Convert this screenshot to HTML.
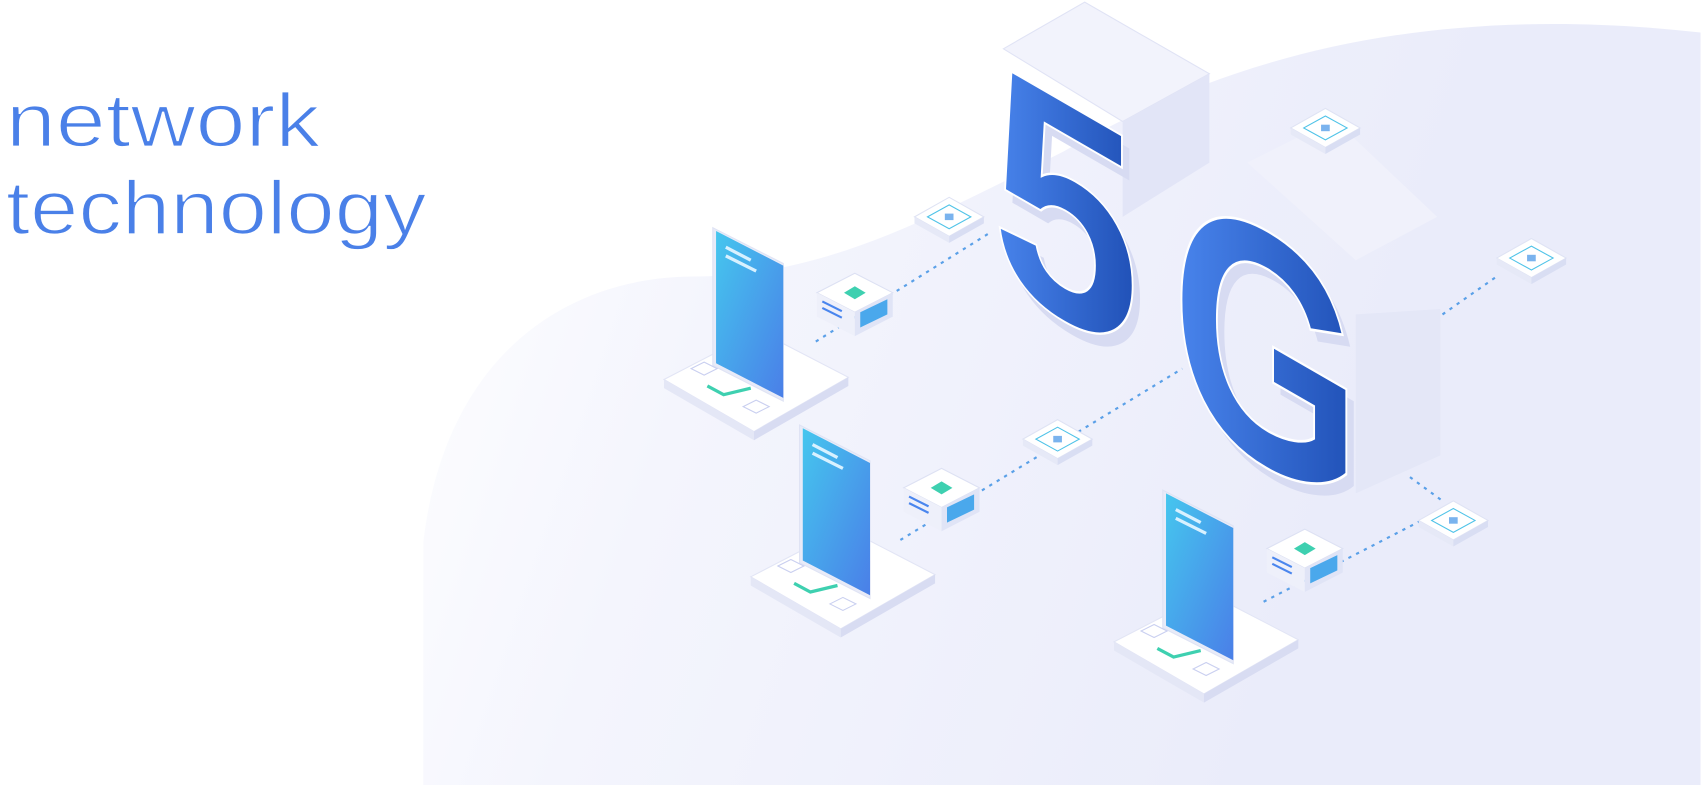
<!DOCTYPE html>
<html><head><meta charset="utf-8"><style>
html,body{margin:0;padding:0;background:#fff;width:1701px;height:785px;overflow:hidden}
svg{display:block}
</style></head><body>
<svg width="1701" height="785" viewBox="0 0 1568 724" xmlns="http://www.w3.org/2000/svg">
<defs>
<linearGradient id="bg" x1="400" y1="0" x2="1300" y2="300" gradientUnits="userSpaceOnUse"><stop offset="0" stop-color="#ffffff"/><stop offset="0.35" stop-color="#f4f5fd"/><stop offset="1" stop-color="#eaecfa"/></linearGradient>
<linearGradient id="blue" x1="0" y1="0" x2="1" y2="0"><stop offset="0" stop-color="#4a86ee"/><stop offset="1" stop-color="#1f4fb5"/></linearGradient>
<linearGradient id="scr" x1="0" y1="0" x2="1" y2="1"><stop offset="0" stop-color="#45c6ee"/><stop offset="1" stop-color="#4a7fe8"/></linearGradient>
<g id="phone">
<polygon points="-85,0 2,-45 85,-2 -2,48" fill="#fff" stroke="#e2e5f5"/>
<polygon points="-85,0 -2,48 -2,56 -85,8" fill="#e4e7f6"/>
<polygon points="-2,48 85,-2 85,6 -2,56" fill="#d8dcf2"/>
<polygon points="-40,-140 25,-107 25,20 -40,-13" fill="#e8ebf8" stroke="#dfe3f4"/>
<polygon points="-37,-137 25,-105 25,17 -37,-15" fill="url(#scr)"/>
<line x1="-28" y1="-122" x2="-5" y2="-110" stroke="#d8f1ff" stroke-width="3"/>
<line x1="-28" y1="-114" x2="0" y2="-100" stroke="#d8f1ff" stroke-width="3"/>
<polygon points="-60,-10 -48,-16 -36,-10 -48,-4" fill="#fff" stroke="#c9cff0"/>
<polygon points="-12,25 0,19 12,25 0,31" fill="#fff" stroke="#c9cff0"/>
<path d="M-45,6 L-30,14 L-5,8" stroke="#3ed0b0" stroke-width="3" fill="none"/>
</g>
<g id="srv">
<polygon points="-35,-10 0,-28 35,-10 0,8" fill="#fff" stroke="#dde1f3"/>
<polygon points="-35,-10 0,8 0,30 -35,12" fill="#eef0fa"/>
<polygon points="0,8 35,-10 35,12 0,30" fill="#e0e4f6"/>
<polygon points="-10,-10 0,-16 10,-10 0,-4" fill="#3ed0b0"/>
<polygon points="5,8 30,-4 30,10 5,22" fill="#4aa8ec"/>
<line x1="-30" y1="-2" x2="-12" y2="7" stroke="#4a86ee" stroke-width="2"/>
<line x1="-30" y1="4" x2="-12" y2="13" stroke="#4a86ee" stroke-width="2"/>
</g>
<g id="chip">
<polygon points="-32,0 0,-18 32,0 0,18" fill="#fff" stroke="#dfe3f4"/>
<polygon points="-32,0 0,18 0,24 -32,6" fill="#e6e9f7"/>
<polygon points="0,18 32,0 32,6 0,24" fill="#d9def3"/>
<polygon points="-20,0 0,-11 20,0 0,11" fill="none" stroke="#4fc3e8"/>
<rect x="-4" y="-3" width="8" height="6" fill="#7ab3ee"/>
</g>
</defs>
<rect width="1568" height="724" fill="#fff"/>
<path d="M390,500 C410,330 520,255 640,255 C760,255 860,200 980,140 C1120,60 1300,0 1568,30 L1568,724 L390,724 Z" fill="url(#bg)"/>
<text x="5" y="135" font-family="Liberation Sans, sans-serif" font-size="70" fill="#4a80e8" stroke="#fff" stroke-width="1.6" textLength="290" lengthAdjust="spacingAndGlyphs">network</text>
<text x="5" y="216" font-family="Liberation Sans, sans-serif" font-size="70" fill="#4a80e8" stroke="#fff" stroke-width="1.6" textLength="388" lengthAdjust="spacingAndGlyphs">technology</text>
<g stroke="#5aa0e8" stroke-width="2" stroke-dasharray="3,5">
<line x1="752" y1="315" x2="912" y2="215"/>
<line x1="830" y1="498" x2="1090" y2="340"/>
<line x1="1165" y1="555" x2="1330" y2="470"/>
<line x1="1330" y1="290" x2="1380" y2="255"/>
<line x1="1300" y1="440" x2="1330" y2="462"/>
</g>
<polygon points="925,45 1000,2 1115,68 1035,112" fill="#f2f3fc" stroke="#e0e3f5"/>
<polygon points="1035,112 1115,68 1115,150 1035,200" fill="#e2e5f7"/>
<g transform="translate(914,255) skewY(30) scale(0.85,1)"><text x="8" y="8" font-family="Liberation Sans, sans-serif" font-weight="bold" font-size="290" fill="#d7dbf2">5</text><text x="0" y="0" font-family="Liberation Sans, sans-serif" font-weight="bold" font-size="290" fill="url(#blue)" stroke="#fff" stroke-width="2">5</text></g>
<polygon points="1150,150 1230,110 1325,200 1250,240" fill="#f0f1fb"/>
<polygon points="1250,290 1328,285 1328,420 1250,455" fill="#e4e7f7"/>
<g transform="translate(1080,378) skewY(30) scale(0.86,1.18)"><text x="8" y="6" font-family="Liberation Sans, sans-serif" font-weight="bold" font-size="262" fill="#d7dbf2">G</text><text x="0" y="0" font-family="Liberation Sans, sans-serif" font-weight="bold" font-size="262" fill="url(#blue)" stroke="#fff" stroke-width="2">G</text></g>
<use href="#chip" x="875" y="200"/>
<use href="#chip" x="975" y="405"/>
<use href="#chip" x="1222" y="118"/>
<use href="#chip" x="1412" y="238"/>
<use href="#chip" x="1340" y="480"/>
<use href="#srv" x="788" y="280"/>
<use href="#srv" x="868" y="460"/>
<use href="#srv" x="1203" y="516"/>
<use href="#phone" x="697" y="350"/>
<use href="#phone" x="777" y="532"/>
<use href="#phone" x="1112" y="592"/>
</svg>
</body></html>
